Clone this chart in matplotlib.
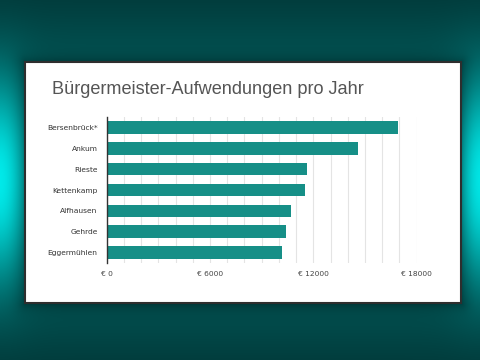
import numpy as np
import matplotlib
matplotlib.use("Agg")
import matplotlib.pyplot as plt
from matplotlib.patches import Rectangle

# ---- data ----
categories = ["Bersenbrück*", "Ankum", "Rieste", "Kettenkamp", "Alfhausen", "Gehrde", "Eggermühlen"]
values = [16900, 14600, 11650, 11500, 10700, 10400, 10150]
tick_values = [0, 6000, 12000, 18000]
tick_labels = ["€ 0", "€ 6000", "€ 12000", "€ 18000"]
title = "Bürgermeister-Aufwendungen pro Jahr"

W, H = 480, 360
fig = plt.figure(figsize=(4.8, 3.6), dpi=100)

# ---- background gradient ----
yy, xx = np.mgrid[0:H, 0:W].astype(float)
dark = np.array([0.01, 0.16, 0.16])
teal = np.array([0.0, 0.50, 0.50])
cyan = np.array([0.0, 0.93, 0.93])
v = np.exp(-((yy - 180) / 150.0) ** 2)
edge = np.minimum(xx, W - 1 - xx)
g = np.exp(-(edge / 30.0) ** 2) * np.exp(-((yy - 180) / 85.0) ** 2)
img = dark + (teal - dark) * v[..., None]
img = img + (cyan - img) * g[..., None]
# card shadow
cx0, cx1, cy0, cy1 = 25, 461, 62, 303
dx = np.maximum(np.maximum(cx0 - xx, xx - cx1), 0)
dy = np.maximum(np.maximum(cy0 - yy, yy - cy1), 0)
d = np.sqrt(dx ** 2 + dy ** 2)
img = img * (1 - 0.35 * np.exp(-d / 8.0))[..., None]
img = np.clip(img, 0, 1)

bg = fig.add_axes([0, 0, 1, 1])
bg.imshow(img, extent=[0, W, H, 0], aspect="auto", interpolation="bilinear")
bg.set_xlim(0, W)
bg.set_ylim(H, 0)
bg.axis("off")
bg.add_patch(Rectangle((cx0, cy0), cx1 - cx0, cy1 - cy0, facecolor="white",
                       edgecolor="#2e2e2e", linewidth=1.5))

fig.text(51.5 / W, 1 - 89.5 / H, title, fontsize=13.1, color="#555555",
         family="Liberation Sans", va="center", ha="left")

# ---- main axes ----
ax = fig.add_axes([106.7 / W, 1 - 263 / H, (416.7 - 106.7) / W, 146 / H])
ax.set_facecolor("none")
y = np.arange(len(categories))
ax.barh(y, values, height=0.6, color="#168f87", zorder=3)
ax.set_ylim(len(categories) - 0.5, -0.5)
ax.set_xlim(0, 18000)
ax.set_xticks(np.arange(0, 18001, 1000), minor=True)
ax.set_xticks(tick_values)
ax.set_xticklabels(tick_labels, fontsize=5.4, color="#444444", family="DejaVu Sans")
ax.set_yticks(y)
ax.set_yticklabels(categories, fontsize=5.4, color="#333333", family="DejaVu Sans")
ax.grid(axis="x", which="both", color="#e4e4e4", linewidth=0.8, zorder=0)
ax.tick_params(axis="both", which="both", length=0)
ax.tick_params(axis="x", pad=6)
ax.tick_params(axis="y", pad=6.5)
for s in ["top", "right", "bottom"]:
    ax.spines[s].set_visible(False)
ax.spines["left"].set_color("#333333")
ax.spines["left"].set_linewidth(1.0)
ax.spines["left"].set_zorder(4)

fig.savefig("out.png", dpi=100)
